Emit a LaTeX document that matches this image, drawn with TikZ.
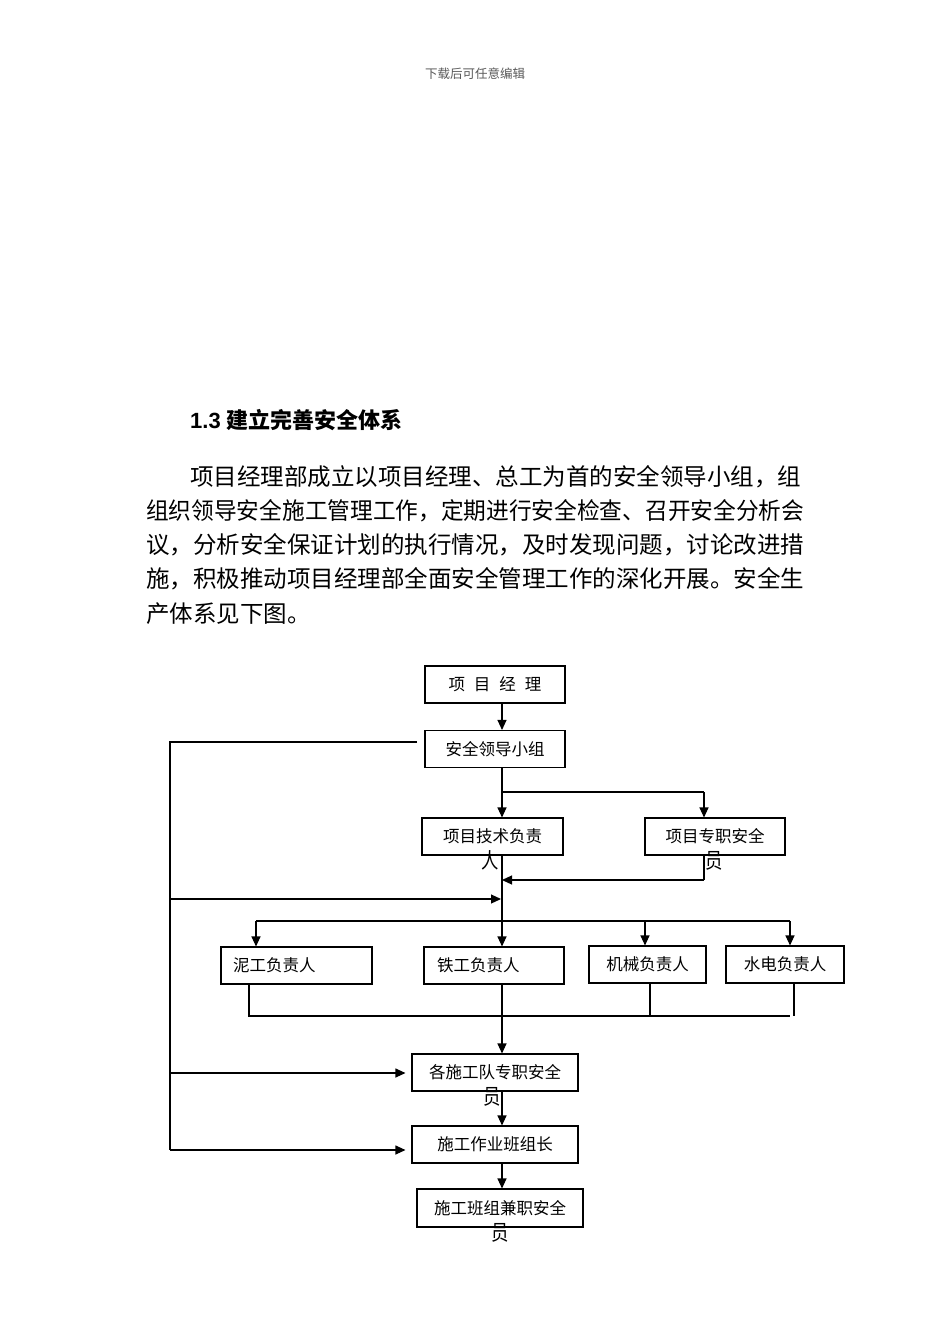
\documentclass[tikz,border=0pt]{standalone}
\usepackage{fontspec}
\usepackage{graphicx}
\setmainfont{Liberation Sans}
\newfontfamily\cjk{Noto Sans CJK SC}
\usetikzlibrary{arrows.meta,calc}
\newcommand{\tallch}[1]{\scalebox{1.05}[1.3]{#1}}
\begin{document}
\begin{tikzpicture}[x=1pt,y=-1pt,
  box/.style={draw, line width=1.1pt, minimum height=37pt, inner sep=0pt,
    font=\cjk\fontsize{16.5}{18}\selectfont},
  ovf/.style={inner sep=0pt, anchor=center, yshift=-5pt, font=\cjk\fontsize{16.5}{18}\selectfont},
  ln/.style={line width=1.1pt},
  arr/.style={ln, -{Triangle[length=10pt,width=9pt]}},
  para/.style={anchor=base west, inner sep=0pt, font=\cjk\fontsize{23.5}{28}\selectfont}
]
\useasboundingbox (0,0) rectangle (950,1344);
\fill[white] (0,0) rectangle (950,1344);

% page text
\node[inner sep=0pt, font=\cjk\fontsize{12.5}{14}\selectfont, text=black!65] (hdr) at (475,74) {下载后可任意编辑};
\node[anchor=base west, inner sep=0pt, font=\bfseries\fontsize{22}{26}\selectfont] (head) at (190,428) {1.3 {\cjk 建立完善安全体系}};
\node[para] (p1) at (190,485) {项目经理部成立以项目经理、总工为首的安全领导小组，组};
\node[para] (p2) at (146,519) {\scalebox{0.9655}[1]{组织领导安全施工管理工作，定期进行安全检查、召开安全分析会}};
\node[para] (p3) at (146,553) {议，分析安全保证计划的执行情况，及时发现问题，讨论改进措};
\node[para] (p4) at (146,587) {施，积极推动项目经理部全面安全管理工作的深化开展。安全生};
\node[para] (p5) at (146,622) {产体系见下图。};

% boxes
\node[box, minimum width=140pt] (pm) at (495,684.5) {项\hspace{9pt}目\hspace{9pt}经\hspace{9pt}理};
\node[box, minimum width=140pt] (sg) at (495,749) {安全领导小组};
\node[box, minimum width=141pt, label={[ovf, xshift=-2pt]south:\tallch{人}}] (tech) at (492.5,836.5) {项目技术负责};
\node[box, minimum width=140pt, label={[ovf, xshift=-1pt]south:\tallch{员}}] (ded) at (715,836.5) {项目专职安全};

\node[box, minimum width=151pt, text width=127pt, align=left] (ni) at (296.5,965.5) {泥工负责人};
\node[box, minimum width=140pt, text width=114pt, align=left] (tie) at (494,965.5) {铁工负责人};
\node[box, minimum width=117pt] (jx) at (647.5,964.5) {机械负责人};
\node[box, minimum width=118pt] (sd) at (785,964.5) {水电负责人};

\node[box, minimum width=166pt, label={[ovf, xshift=-3pt]south:\tallch{员}}] (ged) at (495,1072.5) {各施工队专职安全};
\node[box, minimum width=166pt] (zy) at (495,1144.5) {施工作业班组长};
\node[box, minimum width=166pt, minimum height=38pt, label={[ovf]south:\tallch{员}}] (jz) at (500,1208) {施工班组兼职安全};

% helper coordinates
\coordinate (sp) at (502,0);
\coordinate (Ltop) at (417,742);
\coordinate (L) at (170,742);
\coordinate (Lb) at (170,1150);
\coordinate (j1) at (502,792);
\coordinate (j1r) at (704,792);
\coordinate (r1) at (704,880);
\coordinate (a1) at (170,899);
\coordinate (b1) at (502,921);
\coordinate (bl) at (256,921);
\coordinate (bj) at (645,921);
\coordinate (br) at (790,921);
\coordinate (b2l) at (249,1016);
\coordinate (bj2) at (650,1016);
\coordinate (bs2) at (794,1016);
\coordinate (b2r) at (790,1016);
\coordinate (a2) at (170,1073);

% connectors
\draw[arr] (pm.south -| sp) -- (sg.north -| sp);
\draw[ln] (Ltop) -- (L) -- (Lb);
\draw[ln] (sg.south -| sp) -- (j1);
\draw[arr] (j1) -- (tech.north -| sp);
\draw[ln] (j1) -- (j1r);
\draw[arr] (j1r) -- (ded.north -| j1r);
\draw[ln] (ded.south -| j1r) -- (r1);
\draw[arr] (r1) -- (r1 -| sp);
\draw[ln] (tech.south -| sp) -- (b1);
\draw[arr] (b1) -- (tie.north -| sp);
\draw[arr, shorten >=1pt] (a1) -- (a1 -| sp);
\draw[ln] (bl) -- (br);
\draw[arr] (bl) -- (ni.north -| bl);
\draw[arr] (bj) -- (jx.north -| bj);
\draw[arr] (br) -- (sd.north -| br);
\draw[ln] (ni.south -| b2l) -- (b2l) -- (b2r);
\draw[ln] (jx.south -| bj2) -- (bj2);
\draw[ln] (sd.south -| bs2) -- (bs2);
\draw[arr] (tie.south -| sp) -- (ged.north -| sp);
\draw[arr] (ged.south -| sp) -- (zy.north -| sp);
\draw[arr] (zy.south -| sp) -- (jz.north -| sp);
\draw[arr, shorten >=6pt] (a2) -- (a2 -| ged.west);
\draw[arr, shorten >=6pt] (Lb) -- (Lb -| zy.west);
\end{tikzpicture}
\end{document}
